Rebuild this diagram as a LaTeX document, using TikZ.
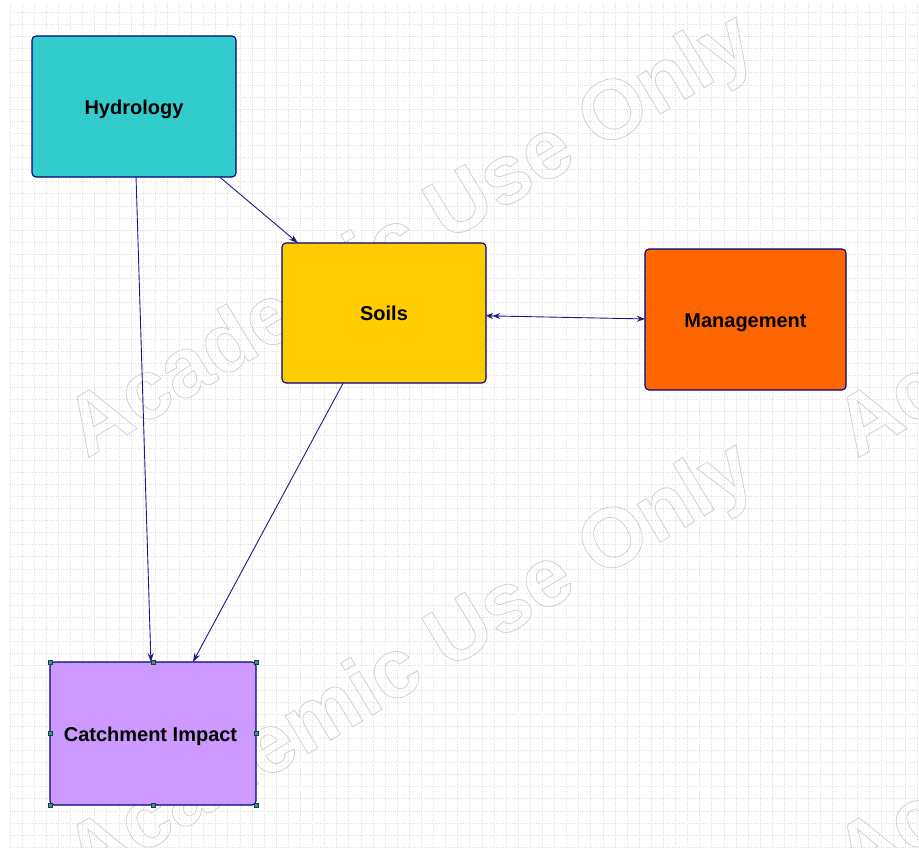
\documentclass[tikz,border=0pt]{standalone}
\usepackage{fontspec}
\setmainfont{Liberation Sans}
\usetikzlibrary{arrows.meta,calc}

\definecolor{hydfill}{HTML}{33CCCC}
\definecolor{soilfill}{HTML}{FFCC00}
\definecolor{mgmtfill}{HTML}{FF6600}
\definecolor{catchfill}{HTML}{CC99FF}
\definecolor{edgeblue}{HTML}{000080}
\definecolor{linkblue}{HTML}{1A1A8A}
\definecolor{gridgray}{HTML}{E2E2E2}
\definecolor{wmgray}{HTML}{D2D2D2}
\definecolor{handlefill}{HTML}{1FA0A0}

% stroked (outline only) watermark text
\newcommand{\wmark}{\special{pdf:code 1 Tr 0.8 w}Academic Use Only\special{pdf:code 0 Tr}}

\begin{document}
\begin{tikzpicture}[x=1pt,y=-1pt,
  box/.style={draw=edgeblue, line width=1.1pt, rounded corners=4pt,
    inner sep=0pt, outer sep=0pt, align=center,
    text height=17pt, text depth=2pt,
    font=\fontsize{20}{24}\selectfont\bfseries},
  tip/.style={Stealth[length=9pt,width=6pt]},
  link/.style={draw=linkblue, line width=0.9pt, -{Stealth[length=9pt,width=6pt]}},
  gridline/.style={draw=gridgray, line width=0.7pt, dash pattern=on 1pt off 1.2pt},
  wm/.style={inner sep=0pt, rotate=31, text=wmgray,
    font=\fontsize{84}{90}\selectfont\bfseries},
  handle/.style={draw=black!80, fill=handlefill, line width=0.5pt,
    minimum size=4pt, inner sep=0pt, outer sep=0pt}]

\useasboundingbox (0,0) rectangle (919,847);
\fill[white] (0,0) rectangle (919,847);

% dotted background grid
\foreach \k in {0,...,75}
  \draw[gridline] ({10+12.1*\k},3) -- ({10+12.1*\k},847);
\foreach \k in {0,...,69}
  \draw[gridline] (10,{12.3+12.1*\k}) -- (919,{12.3+12.1*\k});

% outlined watermark
\node[wm] (wma) at (412,238) {\wmark};
\node[wm] (wmb) at (412,666) {\wmark};
\node[wm] (wmc) at (1182,238) {\wmark};
\node[wm] (wmd) at (1182,666) {\wmark};

% boxes
\node[box, fill=hydfill, minimum width=204pt, minimum height=141pt]
  (hyd) at (134,106.5) {Hydrology};
\node[box, fill=soilfill, minimum width=204pt, minimum height=140pt]
  (soils) at (384,313) {Soils};
\node[box, fill=mgmtfill, minimum width=201pt, minimum height=141pt]
  (mgmt) at (745.5,319.5) {Management};
\node[box, fill=catchfill, minimum width=206pt, minimum height=143pt]
  (catch) at (153,733.5) {\hspace*{-5pt}Catchment Impact};

% connectors
\draw[link] ($(hyd.south west)!0.51!(hyd.south east)$)
  -- ($(catch.north west)!0.49!(catch.north east)$);
\draw[link] ($(hyd.south west)!0.92!(hyd.south east)$)
  -- ($(soils.north west)!0.078!(soils.north east)$);
\draw[link] ($(soils.south west)!0.30!(soils.south east)$)
  -- ($(catch.north west)!0.694!(catch.north east)$);
\draw[draw=linkblue, line width=0.9pt,
  {Stealth[length=7pt,width=6pt]Stealth[length=7pt,width=6pt]}-{Stealth[length=8pt,width=6pt]}]
  ($(soils.north east)!0.52!(soils.south east)$)
  -- ($(mgmt.north west)!0.496!(mgmt.south west)$);

% selection handles
\foreach \a in {north west,north,north east,west,east,south west,south,south east}
  \node[handle] at (catch.\a) {};

\end{tikzpicture}
\end{document}
